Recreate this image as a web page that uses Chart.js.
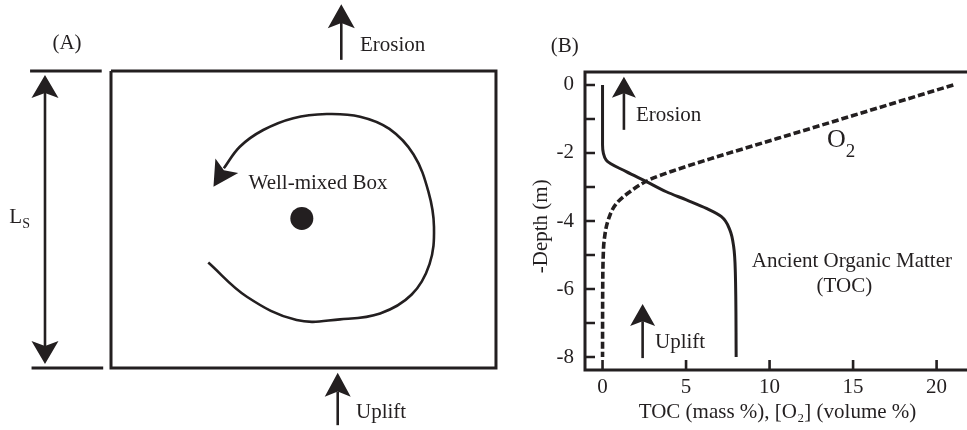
<!DOCTYPE html>
<html><head><meta charset="utf-8">
<script src="https://cdn.jsdelivr.net/npm/chart.js@4/dist/chart.umd.min.js"></script>
<style>
html,body{margin:0;padding:0;background:#fff;overflow:hidden;width:967px;height:430px;}
#wrap{position:relative;width:967px;height:430px;overflow:hidden;background:#fff;}
#cA{position:absolute;left:0;top:0;}
#cB{position:absolute;left:505px;top:0;}
</style></head><body>
<div id="wrap"><canvas id="cA" width="505" height="430"></canvas><canvas id="cB" width="475" height="430"></canvas></div>
<script>
// ---------- Panel B data (depth in m, TOC mass %, O2 volume %) ----------
const tocDepth = [0, -1.76, -2.21, -2.55, -2.84, -3.14, -3.38, -3.63, -3.87, -4.26, -4.75, -5.5, -8];
const tocValues = [0, 0, 0.22, 1.42, 2.62, 3.82, 5.02, 6.22, 7.12, 7.62, 7.85, 7.95, 8.0];
const o2Depth = [0, -0.9, -1.57, -2.15, -2.53, -2.78, -3.14, -3.48, -3.97, -4.56, -5.05, -6, -8];
const o2Values = [21, 15.0, 10.5, 6.6, 4.2, 2.84, 1.64, 0.84, 0.34, 0.1, 0.04, 0.01, 0];
const xTickValues = [0, 5, 10, 15, 20];
const yTickValues = [0, -1, -2, -3, -4, -5, -6, -7, -8];
const xAxisTitle = 'TOC (mass %), [O\u2082] (volume %)';
const yAxisTitle = '-Depth (m)\u2002';

// ---------- Panel A schematic (box units; box height = Ls) ----------
const boxX = [0, 10.37, 10.37, 0, 0];
const boxY = [0, 0, -8, -8, 0];
const lsTopX = [-2.18, -0.25];
const lsTopY = [0, 0];
const lsBotX = [-2.14, -0.21];
const lsBotY = [-8, -8];
const mixX = [2.62, 3.66, 5.00, 6.17, 7.25, 8.10, 8.58, 8.70, 8.55, 8.15, 7.50, 6.71, 5.81, 4.91, 4.10, 3.47, 3.04];
const mixY = [-5.16, -6.08, -6.71, -6.69, -6.53, -6.02, -5.20, -4.20, -3.25, -2.25, -1.56, -1.23, -1.16, -1.27, -1.59, -2.04, -2.62];
const dotX = [5.14];
const dotY = [-3.97];

const INK = '#231f20';
const FONT = '"Liberation Serif", "Times New Roman", serif';
const FS = 21;
Chart.defaults.font.family = FONT;
Chart.defaults.font.size = FS;
Chart.defaults.color = INK;

const zip = (xs, ys) => xs.map((x, i) => ({x, y: ys[i]}));

const arrowsA = [
  {from:[6.203, 0.30], to:[6.203, 1.80], len:24, hw:13.5, heads:'end', shaft:true},
  {from:[6.107, -9.54], to:[6.107, -8.13], len:24, hw:13, heads:'end', shaft:true},
  {from:[-1.778, -7.89], to:[-1.778, -0.11], len:23, hw:13.5, heads:'both', shaft:true},
  {from:[3.12, -2.55], to:[2.76, -3.12], len:25, hw:13.5, heads:'end', shaft:false}
];
const arrowsB = [
  {from:[1.28, -1.32], to:[1.28, 0.24], len:21, hw:12, heads:'end', shaft:true},
  {from:[2.40, -8.03], to:[2.40, -6.44], len:22, hw:12.5, heads:'end', shaft:true}
];
const labelsA = [
  {parts:[['(A)']], x:-1.185, y:0.593, align:'center'},
  {parts:[['Erosion']], x:6.707, y:0.547, align:'left'},
  {parts:[['Uplift']], x:6.60, y:-9.355, align:'left'},
  {parts:[['Well-mixed Box']], x:5.576, y:-3.187, align:'center'},
  {parts:[['L'], ['S', 'sub']], x:-2.739, y:-4.102, align:'left', subSize:14, subDy:5}
];
const labelsB = [
  {parts:[['(B)']], x:-2.26, y:0.97, align:'center'},
  {parts:[['Erosion']], x:2.0, y:-1.05, align:'left'},
  {parts:[['Uplift']], x:3.14, y:-7.745, align:'left'},
  {parts:[['Ancient Organic Matter']], x:14.93, y:-5.36, align:'center'},
  {parts:[['(TOC)']], x:14.48, y:-6.09, align:'center'},
  {parts:[['O'], ['2', 'sub']], x:13.44, y:-1.815, align:'left', size:26, subSize:19, subDy:10}
];

function drawArrow(ctx, p1, p2, len, hw) {
  const dx = p2[0]-p1[0], dy = p2[1]-p1[1];
  const d = Math.hypot(dx, dy) || 1;
  const ux = dx/d, uy = dy/d, px = -uy, py = ux;
  const bx = p2[0]-ux*len, by = p2[1]-uy*len;
  const nx = p2[0]-ux*len*0.78, ny = p2[1]-uy*len*0.78;
  ctx.beginPath();
  ctx.moveTo(p2[0], p2[1]);
  ctx.lineTo(bx+px*hw, by+py*hw);
  ctx.lineTo(nx, ny);
  ctx.lineTo(bx-px*hw, by-py*hw);
  ctx.closePath();
  ctx.fill();
  return [nx, ny];
}

const annotate = {
  id: 'annotate',
  afterDatasetsDraw(chart, args, opts) {
    const ctx = chart.ctx;
    const xs = chart.scales.x, ys = chart.scales.y;
    const P = (pt) => [xs.getPixelForValue(pt[0]), ys.getPixelForValue(pt[1])];
    ctx.save();
    ctx.fillStyle = INK; ctx.strokeStyle = INK;
    if (opts.frame) {
      const a = chart.chartArea;
      ctx.lineWidth = 3;
      ctx.lineJoin = 'miter';
      ctx.strokeRect(a.left, a.top, a.right - a.left, a.bottom - a.top);
      ctx.lineWidth = 2.6;
      ctx.beginPath();
      xs.ticks.forEach(t => { const p = xs.getPixelForValue(t.value); ctx.moveTo(p, a.bottom); ctx.lineTo(p, a.bottom - 10); });
      ys.ticks.forEach(t => { const p = ys.getPixelForValue(t.value); ctx.moveTo(a.left, p); ctx.lineTo(a.left + 10, p); });
      ctx.stroke();
    }
    (opts.arrows || []).forEach(ar => {
      const t = P(ar.from), h = P(ar.to);
      const n1 = drawArrow(ctx, t, h, ar.len, ar.hw);
      let start = t;
      if (ar.heads === 'both') start = drawArrow(ctx, h, t, ar.len, ar.hw);
      if (ar.shaft) {
        ctx.lineWidth = 2.6;
        ctx.beginPath(); ctx.moveTo(start[0], start[1]); ctx.lineTo(n1[0], n1[1]); ctx.stroke();
      }
    });
    ctx.textBaseline = 'alphabetic';
    ctx.textAlign = 'left';
    (opts.labels || []).forEach(L => {
      const size = L.size || FS, sub = L.subSize || 14;
      const fontOf = (kind) => (kind === 'sub' ? sub : size) + 'px ' + FONT;
      let w = 0;
      L.parts.forEach(pt => { ctx.font = fontOf(pt[1]); w += ctx.measureText(pt[0]).width; });
      const [x0, y0] = P([L.x, L.y]);
      let x = L.align === 'center' ? x0 - w/2 : (L.align === 'right' ? x0 - w : x0);
      L.parts.forEach(pt => {
        ctx.font = fontOf(pt[1]);
        ctx.fillText(pt[0], x, y0 + (pt[1] === 'sub' ? (L.subDy || 0) : 0));
        x += ctx.measureText(pt[0]).width;
      });
    });
    ctx.restore();
  }
};

const lineDs = (xs, ys, extra) => Object.assign({
  data: zip(xs, ys), showLine: true, borderColor: INK, borderWidth: 3,
  pointRadius: 0, fill: false, tension: 0, borderJoinStyle: 'miter'
}, extra || {});

new Chart(document.getElementById('cA'), {
  type: 'scatter',
  data: { datasets: [
    lineDs(boxX, boxY),
    lineDs(lsTopX, lsTopY),
    lineDs(lsBotX, lsBotY),
    lineDs(mixX, mixY, {borderWidth: 2.6, tension: 0.38, borderJoinStyle: 'round'}),
    {data: zip(dotX, dotY), showLine: false, pointRadius: 11.5, pointBackgroundColor: INK, pointBorderWidth: 0, pointStyle: 'circle'}
  ]},
  options: {
    responsive: false, animation: false, devicePixelRatio: 1,
    layout: {padding: 0, autoPadding: false},
    scales: {
      x: {type: 'linear', min: -2.99, max: 10.613, display: false},
      y: {type: 'linear', min: -9.67, max: 1.912, display: false}
    },
    plugins: {legend: {display: false}, tooltip: {enabled: false},
      annotate: {arrows: arrowsA, labels: labelsA, frame: false}}
  },
  plugins: [annotate]
});

new Chart(document.getElementById('cB'), {
  type: 'line',
  data: { datasets: [
    {label: 'TOC', data: zip(tocValues, tocDepth), borderColor: INK, borderWidth: 3, pointRadius: 0,
     cubicInterpolationMode: 'monotone', fill: false},
    {label: 'O2', data: zip(o2Values, o2Depth), borderColor: INK, borderWidth: 3.6, borderDash: [7, 3],
     pointRadius: 0, cubicInterpolationMode: 'monotone', fill: false}
  ]},
  options: {
    indexAxis: 'y',
    responsive: false, animation: false, devicePixelRatio: 1,
    layout: {padding: {top: 72, right: 10, left: 0, bottom: 0}, autoPadding: false},
    scales: {
      x: {type: 'linear', position: 'bottom', min: -1.05, max: 22.0,
          afterBuildTicks: (s) => { s.ticks = xTickValues.map(v => ({value: v})); },
          afterFit: (s) => { s.height = 60; },
          grid: {display: false, drawTicks: false}, border: {display: false},
          ticks: {padding: 5, autoSkip: false, maxRotation: 0, color: INK, font: {size: FS}},
          title: {display: true, text: xAxisTitle, padding: {top: 0, bottom: 5}, color: INK, font: {size: FS}}},
      y: {type: 'linear', position: 'left', min: -8.38, max: 0.38,
          afterBuildTicks: (s) => { s.ticks = yTickValues.map(v => ({value: v})); },
          afterFit: (s) => { s.width = 80; },
          grid: {display: false, drawTicks: false}, border: {display: false},
          ticks: {padding: 11, autoSkip: false, color: INK, font: {size: FS},
                  callback: (v) => (Math.round(v) % 2 === 0 ? String(v) : '')},
          title: {display: true, text: yAxisTitle, padding: {top: 24, bottom: 0}, color: INK, font: {size: FS}}}
    },
    plugins: {legend: {display: false}, tooltip: {enabled: false},
      annotate: {arrows: arrowsB, labels: labelsB, frame: true}}
  },
  plugins: [annotate]
});
</script>
</body></html>
